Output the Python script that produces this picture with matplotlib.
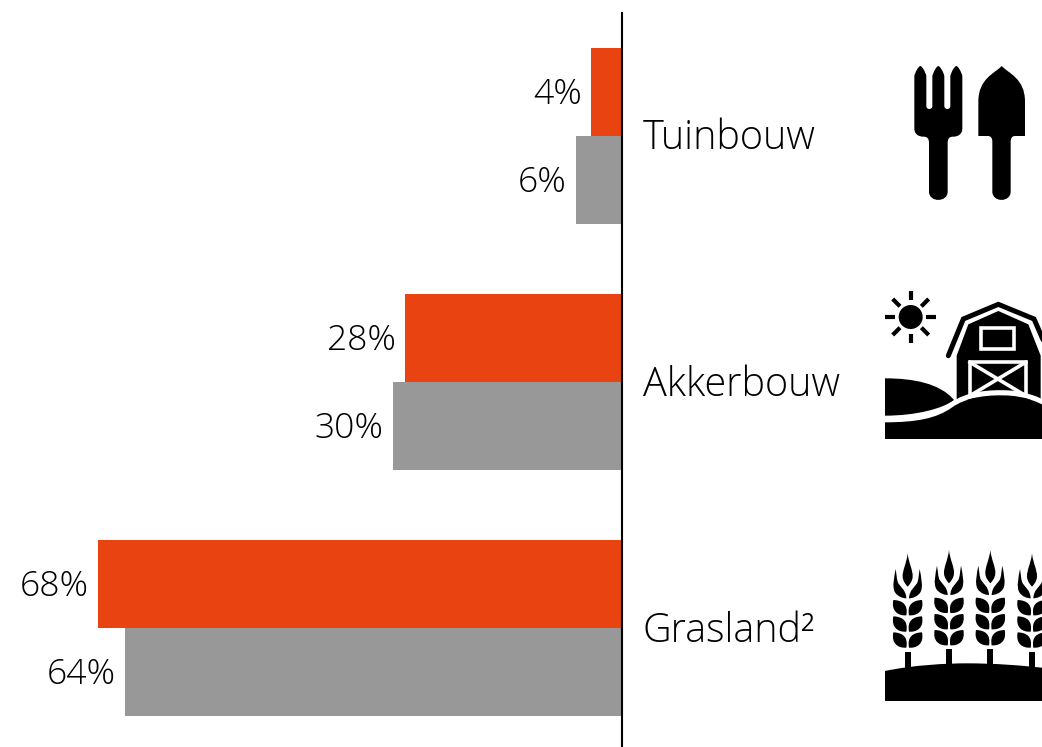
#!/usr/bin/env python3
import matplotlib
matplotlib.use('Agg')
import matplotlib.pyplot as plt
from matplotlib.patches import Circle, PathPatch, Rectangle
from matplotlib.path import Path

categories = ['Tuinbouw', 'Akkerbouw', 'Grasland\u00b2']
# bar lengths, the labels are the rounded figures
red_values = [4.0, 28.1, 67.9]
grey_values = [6.0, 29.7, 64.4]
red_shown = [4, 28, 68]
grey_shown = [6, 30, 64]

RED = '#E84311'
GREY = '#989898'
W, H = 1042, 747
PX_PER_PCT = 7.72
ZERO_X = 622
ROW_PX = 246.25
FIRST_ROW = 135.5
BAR_PX = 88

plt.rcParams['font.family'] = ['Open Sans', 'DejaVu Sans']
plt.rcParams['font.weight'] = 'light'

fig = plt.figure(figsize=(W / 100, H / 100), dpi=100, facecolor='white')
ax = fig.add_axes([0, 0, 1, 1])
ax.set_xlim(-ZERO_X / PX_PER_PCT, (W - ZERO_X) / PX_PER_PCT)
ax.set_ylim((H - FIRST_ROW) / ROW_PX, -FIRST_ROW / ROW_PX)
ax.axis('off')

bar_h = BAR_PX / ROW_PX
for idx, cat in enumerate(categories):
    ax.barh(idx - bar_h / 2, -red_values[idx], height=bar_h, color=RED, linewidth=0)
    ax.barh(idx + bar_h / 2, -grey_values[idx], height=bar_h, color=GREY, linewidth=0)
    ax.annotate('%d%%' % red_shown[idx], (-red_values[idx], idx - bar_h / 2), xytext=(-6.5, -2),
                textcoords='offset points', ha='right', va='center', fontsize=25.5, color='black')
    ax.annotate('%d%%' % grey_shown[idx], (-grey_values[idx], idx + bar_h / 2), xytext=(-6.5, -2),
                textcoords='offset points', ha='right', va='center', fontsize=25.5, color='black')
    ax.annotate(cat, (0, idx), xytext=(15, -10), textcoords='offset points',
                ha='left', va='baseline', fontsize=28.5, color='black')

ax.plot([0, 0], [-(FIRST_ROW - 13) / ROW_PX, (H - FIRST_ROW) / ROW_PX], color='black', lw=1.5, zorder=5)

## icons are drawn on an overlay in pixel coordinates
ic = fig.add_axes([0, 0, 1, 1], facecolor='none')
ic.set_xlim(0, W)
ic.set_ylim(H, 0)
ic.axis('off')


def shape(ops, ox, oy, color='black', lw=0, fill=True):
    # ops: list of (code, x, y) in 3x crop coordinates
    verts = [(x / 3 + ox, y / 3 + oy) for _, x, y in ops]
    codes = [c for c, _, _ in ops]
    ic.add_patch(PathPatch(Path(verts, codes), facecolor=color if fill else 'none',
                           edgecolor=color if lw else 'none', lw=lw, joinstyle='round'))


M, L, C, Z = Path.MOVETO, Path.LINETO, Path.CURVE4, Path.CLOSEPOLY


def poly(points, ox, oy):
    ops = [(M, *points[0])] + [(L, *p) for p in points[1:]] + [(Z, *points[0])]
    shape(ops, ox, oy)


def tine(cx):
    # one rounded fork tip, going up on the left and down on the right
    return [(L, cx - 18, 78), (C, cx - 15, 65), (C, cx - 5, 48), (C, cx, 48), (C, cx + 5, 48), (C, cx + 15, 65), (C, cx + 18, 78)]


def draw_tools(ox=880, oy=50):
    fork = [(M, 103, 90)] + tine(121) + [(L, 139, 168), (C, 139, 180), (C, 157, 180), (C, 157, 168)] + tine(175) + \
           [(L, 193, 168), (C, 193, 180), (C, 211, 180), (C, 211, 168)] + tine(229) + \
           [(L, 247, 235), (C, 247, 252), (C, 235, 260), (C, 220, 260),
            (C, 208, 260), (C, 203, 265), (C, 203, 280), (L, 203, 425), (C, 203, 458), (C, 147, 458), (C, 147, 425),
            (L, 147, 280), (C, 147, 265), (C, 142, 260), (C, 130, 260), (C, 115, 260), (C, 103, 252), (C, 103, 235),
            (Z, 103, 90)]
    shape(fork, ox, oy)
    spade = [(M, 365, 48), (C, 385, 70), (C, 435, 85), (C, 435, 155), (L, 435, 258), (L, 405, 258), (C, 396, 258),
             (C, 392, 265), (C, 392, 275), (L, 392, 425), (C, 392, 458), (C, 337, 458), (C, 337, 425), (L, 337, 275),
             (C, 337, 265), (C, 333, 258), (C, 324, 258), (L, 295, 258), (L, 295, 155), (C, 295, 85), (C, 345, 70),
             (C, 365, 48), (Z, 365, 48)]
    shape(spade, ox, oy)


def draw_barn(ox=880, oy=285):
    ic.add_patch(Circle((92 / 3 + ox, 96 / 3 + oy), 36 / 3, color='black', lw=0))
    rays = [((92, 18), (92, 46)), ((92, 146), (92, 174)), ((15, 96), (45, 96)), ((138, 96), (168, 96)),
            ((38, 42), (60, 64)), ((124, 128), (146, 150)), ((146, 42), (124, 64)), ((60, 128), (38, 150))]
    for a, b in rays:
        ic.plot([a[0] / 3 + ox, b[0] / 3 + ox], [a[1] / 3 + oy, b[1] / 3 + oy], color='black', lw=3,
                solid_capstyle='butt')
    # roof band and body
    ic.plot([x / 3 + ox for x in (205, 250, 355, 462, 510)], [y / 3 + oy for y in (212, 102, 58, 102, 212)],
            color='black', lw=3.6, solid_capstyle='round', solid_joinstyle='miter')
    poly([(230, 345), (230, 212), (265, 118), (355, 78), (445, 118), (482, 212), (482, 345)], ox, oy)
    ic.add_patch(Rectangle((303 / 3 + ox, 128 / 3 + oy), 100 / 3, 65 / 3, facecolor='none', edgecolor='white', lw=2.6))
    ic.add_patch(Rectangle((270 / 3 + ox, 232 / 3 + oy), 167 / 3, 100 / 3, facecolor='none', edgecolor='white', lw=2.6))
    for a, b in (((270, 232), (437, 332)), ((437, 232), (270, 332))):
        ic.plot([a[0] / 3 + ox, b[0] / 3 + ox], [a[1] / 3 + oy, b[1] / 3 + oy], color='white', lw=2.6)
    # hills
    shape([(M, 15, 280), (C, 100, 280), (C, 180, 295), (C, 222, 345), (C, 190, 370), (C, 110, 392), (C, 15, 392),
           (Z, 15, 280)], ox, oy)
    hill = [(M, 15, 412), (C, 110, 412), (C, 170, 400), (C, 215, 368), (C, 260, 335), (C, 330, 328), (C, 390, 332),
            (C, 430, 335), (C, 465, 345), (C, 520, 375), (L, 520, 462), (L, 15, 462), (Z, 15, 412)]
    # white band above the front hill
    shape([(M, 15, 404), (C, 110, 404), (C, 170, 392), (C, 215, 360), (C, 260, 327), (C, 330, 320), (C, 390, 324),
           (C, 430, 327), (C, 465, 337), (C, 520, 367)], ox, oy, color='white', lw=3.6, fill=False)
    shape(hill, ox, oy)


def draw_wheat(cx, top, ox=880, oy=545):
    dy = top - 25
    # centre grain with its awn
    shape([(M, cx, 25 + dy), (C, cx + 3, 55 + dy), (C, cx + 16, 75 + dy), (C, cx + 15, 95 + dy), (C, cx + 14, 110 + dy),
           (C, cx + 6, 118 + dy), (C, cx, 125 + dy), (C, cx - 6, 118 + dy), (C, cx - 14, 110 + dy), (C, cx - 15, 95 + dy),
           (C, cx - 16, 75 + dy), (C, cx - 3, 55 + dy), (C, cx, 25 + dy), (Z, cx, 25 + dy)], ox, oy)
    for s in (-1, 1):
        # top pair with a horn
        shape([(M, cx + s * 4, 160 + dy), (C, cx + s * 5, 135 + dy), (C, cx + s * 22, 125 + dy), (C, cx + s * 28, 115 + dy),
               (C, cx + s * 33, 105 + dy), (C, cx + s * 33, 90 + dy), (C, cx + s * 36, 72 + dy), (C, cx + s * 40, 95 + dy),
               (C, cx + s * 48, 125 + dy), (C, cx + s * 38, 142 + dy), (C, cx + s * 30, 155 + dy), (C, cx + s * 14, 160 + dy),
               (C, cx + s * 4, 160 + dy), (Z, cx + s * 4, 160 + dy)], ox, oy)
        for row_y in (165, 214, 262):
            y = row_y + dy * 0.7
            shape([(M, cx + s * 43, y), (C, cx + s * 50, y + 34), (C, cx + s * 28, y + 48), (C, cx + s * 4, y + 46),
                   (C, cx - s * 2, y + 14), (C, cx + s * 15, y + 1), (C, cx + s * 43, y), (Z, cx + s * 43, y)], ox, oy)


def draw_field(ox=880, oy=545):
    for cx, top, stem_top in ((83, 25, 322), (207, 15, 312), (331, 15, 312), (456, 25, 322)):
        draw_wheat(cx, top)
        ic.add_patch(Rectangle(((cx - 9) / 3 + ox, stem_top / 3 + oy), 18 / 3, (375 - stem_top) / 3, color='black', lw=0))
    shape([(M, 15, 378), (C, 100, 360), (C, 200, 355), (C, 260, 355), (C, 340, 355), (C, 420, 360), (C, 520, 372),
           (L, 520, 468), (L, 15, 468), (Z, 15, 378)], ox, oy)


draw_tools()
draw_barn()
draw_field()

plt.savefig('out.png', dpi=100, facecolor='white')
